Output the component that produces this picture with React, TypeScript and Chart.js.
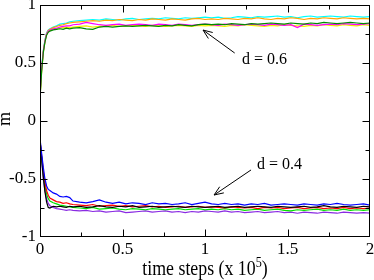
import { useEffect, useRef } from "react";
import { Chart, registerables } from "chart.js";

Chart.register(...registerables);

// ---------- data (time in units of 10^5 steps, magnetisation m) ----------
const timeSteps = [
  0, 0.01, 0.02, 0.03, 0.04, 0.05, 0.06, 0.08, 0.1, 0.12, 0.14, 0.16, 0.18, 0.2,
  0.24, 0.28, 0.32, 0.36, 0.4, 0.44, 0.48, 0.52, 0.56, 0.6, 0.64, 0.68, 0.72, 0.76, 0.8, 0.84, 0.88, 0.92, 0.96, 1.0,
  1.04, 1.08, 1.12, 1.16, 1.2, 1.24, 1.28, 1.32, 1.36, 1.4, 1.44, 1.48, 1.52, 1.56, 1.6, 1.64, 1.68, 1.72, 1.76, 1.8,
  1.84, 1.88, 1.92, 1.96, 2.0,
];

const xTickValues = [0, 0.5, 1, 1.5, 2];
const yTickValues = [-1, -0.5, 0, 0.5, 1];

// d = 0.6 runs
const d06Green = [
  0.19, 0.43, 0.59, 0.68, 0.74, 0.765, 0.775, 0.785, 0.79, 0.795, 0.79, 0.8, 0.795, 0.8,
  0.805, 0.795, 0.79, 0.81, 0.815, 0.81, 0.815, 0.82, 0.815, 0.82, 0.825, 0.82, 0.815, 0.825, 0.82, 0.83, 0.825, 0.82, 0.83, 0.835,
  0.83, 0.835, 0.83, 0.84, 0.835, 0.83, 0.84, 0.835, 0.84, 0.845, 0.84, 0.835, 0.845, 0.84, 0.835, 0.845, 0.84, 0.85, 0.845, 0.84,
  0.845, 0.85, 0.845, 0.84, 0.845,
];
const d06Magenta = [
  0.23, 0.45, 0.6, 0.69, 0.75, 0.775, 0.785, 0.795, 0.8, 0.81, 0.815, 0.82, 0.82, 0.83,
  0.835, 0.85, 0.84, 0.83, 0.825, 0.83, 0.835, 0.825, 0.83, 0.835, 0.83, 0.825, 0.835, 0.83, 0.825, 0.835, 0.83, 0.825, 0.83, 0.835,
  0.83, 0.825, 0.835, 0.83, 0.825, 0.83, 0.835, 0.83, 0.825, 0.835, 0.83, 0.825, 0.83, 0.805, 0.835, 0.83, 0.825, 0.83, 0.835, 0.83,
  0.84, 0.835, 0.83, 0.835, 0.84,
];
const d06Yellow = [
  0.2, 0.43, 0.59, 0.685, 0.745, 0.77, 0.78, 0.79, 0.795, 0.8, 0.805, 0.81, 0.805, 0.81,
  0.815, 0.82, 0.81, 0.815, 0.82, 0.825, 0.815, 0.82, 0.825, 0.82, 0.815, 0.825, 0.82, 0.815, 0.82, 0.825, 0.82, 0.815, 0.825, 0.82,
  0.825, 0.82, 0.815, 0.825, 0.82, 0.83, 0.825, 0.82, 0.815, 0.825, 0.82, 0.83, 0.825, 0.82, 0.815, 0.825, 0.82, 0.83, 0.825, 0.82,
  0.83, 0.825, 0.82, 0.83, 0.825,
];
const d06Orange = [
  0.21, 0.44, 0.6, 0.69, 0.755, 0.78, 0.79, 0.805, 0.815, 0.825, 0.83, 0.84, 0.845, 0.85,
  0.855, 0.86, 0.865, 0.86, 0.87, 0.865, 0.875, 0.87, 0.865, 0.875, 0.87, 0.88, 0.875, 0.87, 0.88, 0.875, 0.87, 0.88, 0.885, 0.875,
  0.88, 0.875, 0.885, 0.88, 0.875, 0.885, 0.88, 0.89, 0.88, 0.875, 0.885, 0.88, 0.89, 0.885, 0.875, 0.885, 0.88, 0.89, 0.885, 0.88,
  0.89, 0.885, 0.88, 0.885, 0.88,
];
const d06Cyan = [
  0.22, 0.46, 0.61, 0.7, 0.76, 0.785, 0.795, 0.81, 0.82, 0.835, 0.84, 0.845, 0.855, 0.86,
  0.865, 0.87, 0.875, 0.87, 0.88, 0.875, 0.87, 0.88, 0.885, 0.875, 0.88, 0.885, 0.88, 0.89, 0.885, 0.88, 0.89, 0.885, 0.89, 0.895,
  0.89, 0.895, 0.885, 0.89, 0.9, 0.895, 0.89, 0.9, 0.895, 0.9, 0.905, 0.895, 0.9, 0.89, 0.9, 0.905, 0.895, 0.9, 0.905, 0.9,
  0.895, 0.905, 0.9, 0.895, 0.9,
];

// d = 0.4 runs
const d04Blue = [
  -0.15, -0.28, -0.4, -0.5, -0.56, -0.59, -0.6, -0.62, -0.63, -0.65, -0.655, -0.65, -0.66, -0.69,
  -0.7, -0.705, -0.695, -0.68, -0.7, -0.71, -0.7, -0.715, -0.705, -0.71, -0.72, -0.705, -0.715, -0.71, -0.72, -0.715, -0.705, -0.72, -0.71, -0.7,
  -0.715, -0.72, -0.71, -0.72, -0.715, -0.725, -0.715, -0.72, -0.71, -0.725, -0.72, -0.715, -0.72, -0.725, -0.715, -0.72, -0.725, -0.715, -0.72, -0.71,
  -0.72, -0.725, -0.72, -0.715, -0.725,
];
const d04Black = [
  -0.16, -0.32, -0.48, -0.61, -0.7, -0.745, -0.75, -0.735, -0.74, -0.735, -0.74, -0.745, -0.735, -0.74,
  -0.735, -0.745, -0.74, -0.73, -0.74, -0.745, -0.735, -0.74, -0.73, -0.745, -0.74, -0.735, -0.745, -0.74, -0.735, -0.74, -0.745, -0.735, -0.74, -0.745,
  -0.74, -0.735, -0.745, -0.74, -0.735, -0.745, -0.74, -0.735, -0.74, -0.745, -0.735, -0.74, -0.745, -0.74, -0.735, -0.745, -0.74, -0.73, -0.74, -0.745,
  -0.735, -0.74, -0.745, -0.735, -0.74,
];
const d04Red = [
  -0.17, -0.3, -0.43, -0.53, -0.6, -0.64, -0.665, -0.68, -0.695, -0.7, -0.71, -0.705, -0.715, -0.72,
  -0.725, -0.73, -0.72, -0.735, -0.73, -0.725, -0.735, -0.73, -0.74, -0.735, -0.73, -0.74, -0.735, -0.745, -0.74, -0.735, -0.745, -0.74, -0.735, -0.745,
  -0.74, -0.745, -0.75, -0.74, -0.745, -0.75, -0.745, -0.755, -0.745, -0.75, -0.745, -0.755, -0.75, -0.745, -0.755, -0.75, -0.745, -0.755, -0.75, -0.755,
  -0.745, -0.755, -0.75, -0.755, -0.75,
];
const d04Green = [
  -0.18, -0.32, -0.46, -0.56, -0.63, -0.67, -0.69, -0.705, -0.715, -0.725, -0.73, -0.735, -0.74, -0.745,
  -0.75, -0.755, -0.745, -0.76, -0.755, -0.75, -0.76, -0.765, -0.755, -0.76, -0.765, -0.755, -0.76, -0.765, -0.76, -0.755, -0.765, -0.76, -0.755, -0.765,
  -0.76, -0.765, -0.755, -0.765, -0.76, -0.77, -0.765, -0.76, -0.77, -0.765, -0.76, -0.77, -0.775, -0.765, -0.77, -0.765, -0.76, -0.77, -0.765, -0.77,
  -0.76, -0.77, -0.765, -0.77, -0.765,
];
const d04Violet = [
  -0.2, -0.35, -0.5, -0.6, -0.67, -0.71, -0.73, -0.745, -0.755, -0.76, -0.765, -0.77, -0.765, -0.77,
  -0.775, -0.77, -0.78, -0.775, -0.785, -0.78, -0.775, -0.79, -0.785, -0.78, -0.775, -0.785, -0.78, -0.775, -0.785, -0.78, -0.79, -0.78, -0.785, -0.775,
  -0.78, -0.785, -0.775, -0.785, -0.78, -0.79, -0.785, -0.78, -0.79, -0.785, -0.78, -0.79, -0.785, -0.795, -0.785, -0.79, -0.795, -0.785, -0.79, -0.795,
  -0.785, -0.79, -0.795, -0.79, -0.795,
];

const annotationTexts = ["d = 0.6", "d = 0.4"];

// ---------- styling ----------
const SERIF = "'Liberation Serif', 'Times New Roman', serif";

const seriesList = [
  { values: d04Blue, color: "#0000ff" },
  { values: d04Black, color: "#000000" },
  { values: d04Red, color: "#ff0000" },
  { values: d04Green, color: "#00e000" },
  { values: d04Violet, color: "#8a2be2" },
  { values: d06Green, color: "#008b00" },
  { values: d06Magenta, color: "#ff00ff" },
  { values: d06Yellow, color: "#f0f000" },
  { values: d06Orange, color: "#ffa500" },
  { values: d06Cyan, color: "#00ffff" },
];

// annotation geometry in data coordinates
const annotations = [
  { text: annotationTexts[0], at: [1.36, 0.526], tail: [1.18, 0.586], head: [0.988, 0.784] },
  { text: annotationTexts[1], at: [1.452, -0.379], tail: [1.279, -0.422], head: [1.055, -0.638] },
];

const fmt = (v: number) => String(v);

const decorPlugin = {
  id: "decor",
  afterDatasetsDraw(chart: any) {
    const { ctx, chartArea: a, scales } = chart;
    const xs = scales.x;
    const ys = scales.y;
    ctx.save();
    ctx.strokeStyle = "#000";
    ctx.lineWidth = 1;
    const L = a.left + 0.5;
    const R = a.right - 0.5;
    const T = a.top + 0.5;
    const B = a.bottom - 0.5;
    ctx.strokeRect(L, T, R - L, B - T);

    const major = 7;
    const minor = 4;
    ctx.beginPath();
    const xt: [number, number][] = [];
    xTickValues.forEach((v, i) => {
      xt.push([v, major]);
      if (i < xTickValues.length - 1) xt.push([(v + xTickValues[i + 1]) / 2, minor]);
    });
    xt.forEach(([v, len]) => {
      const p = Math.round(xs.getPixelForValue(v)) + 0.5;
      const px = Math.min(Math.max(p, L), R);
      ctx.moveTo(px, B);
      ctx.lineTo(px, B - len);
      ctx.moveTo(px, T);
      ctx.lineTo(px, T + len);
    });
    const yt: [number, number][] = [];
    yTickValues.forEach((v, i) => {
      yt.push([v, major]);
      if (i < yTickValues.length - 1) yt.push([(v + yTickValues[i + 1]) / 2, minor]);
    });
    yt.forEach(([v, len]) => {
      const p = Math.round(ys.getPixelForValue(v)) + 0.5;
      const py = Math.min(Math.max(p, T), B);
      ctx.moveTo(L, py);
      ctx.lineTo(L + len, py);
      ctx.moveTo(R, py);
      ctx.lineTo(R - len, py);
    });
    ctx.stroke();

    // annotations with arrows
    ctx.fillStyle = "#000";
    ctx.font = `16px ${SERIF}`;
    ctx.textAlign = "center";
    ctx.textBaseline = "middle";
    annotations.forEach((an) => {
      ctx.fillText(an.text, xs.getPixelForValue(an.at[0]), ys.getPixelForValue(an.at[1]));
      const x1 = xs.getPixelForValue(an.tail[0]);
      const y1 = ys.getPixelForValue(an.tail[1]);
      const x2 = xs.getPixelForValue(an.head[0]);
      const y2 = ys.getPixelForValue(an.head[1]);
      const ang = Math.atan2(y2 - y1, x2 - x1);
      const hl = 10;
      const sp = 0.38;
      ctx.beginPath();
      ctx.moveTo(x1, y1);
      ctx.lineTo(x2, y2);
      ctx.moveTo(x2 - hl * Math.cos(ang - sp), y2 - hl * Math.sin(ang - sp));
      ctx.lineTo(x2, y2);
      ctx.lineTo(x2 - hl * Math.cos(ang + sp), y2 - hl * Math.sin(ang + sp));
      ctx.stroke();
    });

    // x axis title with superscript
    const cx = (a.left + a.right) / 2;
    ctx.save();
    ctx.translate(cx, 275);
    ctx.scale(0.81, 1);
    ctx.textAlign = "left";
    ctx.textBaseline = "alphabetic";
    ctx.font = `22px ${SERIF}`;
    const main = "time steps (x 10";
    const close = ")";
    const wm = ctx.measureText(main).width;
    const wc = ctx.measureText(close).width;
    ctx.font = `15px ${SERIF}`;
    const sup = "5";
    const wsu = ctx.measureText(sup).width;
    const start = -(wm + wsu + wc) / 2;
    ctx.font = `22px ${SERIF}`;
    ctx.fillText(main, start, 0);
    ctx.fillText(close, start + wm + wsu, 0);
    ctx.font = `15px ${SERIF}`;
    ctx.fillText(sup, start + wm, -8);
    ctx.restore();

    // y axis title
    ctx.save();
    ctx.translate(10, 119);
    ctx.rotate(-Math.PI / 2);
    ctx.textAlign = "center";
    ctx.textBaseline = "alphabetic";
    ctx.font = `18px ${SERIF}`;
    ctx.fillText("m", 0, 0);
    ctx.restore();

    ctx.restore();
  },
};

export default function App() {
  const ref = useRef<HTMLCanvasElement | null>(null);

  useEffect(() => {
    document.body.style.margin = "0";
    const canvas = ref.current;
    if (!canvas) return;
    const chart = new Chart(canvas, {
      type: "line",
      data: {
        datasets: seriesList.map((s) => ({
          data: timeSteps.map((t, i) => ({ x: t, y: s.values[i] })),
          borderColor: s.color,
          backgroundColor: s.color,
          borderWidth: 1.2,
          pointRadius: 0,
          tension: 0,
          fill: false,
        })),
      },
      options: {
        responsive: false,
        animation: false,
        devicePixelRatio: 1,
        layout: { padding: { left: 0, right: 4, top: 5, bottom: 0 } },
        plugins: { legend: { display: false }, tooltip: { enabled: false } },
        scales: {
          x: {
            type: "linear",
            min: 0,
            max: 2,
            grid: { display: false, drawTicks: false },
            border: { display: false },
            afterBuildTicks: (s: any) => {
              s.ticks = xTickValues.map((v) => ({ value: v }));
            },
            afterFit: (s: any) => {
              s.height = 43;
              s.paddingLeft = 0;
              s.paddingRight = 0;
              s.paddingTop = 0;
              s.paddingBottom = 0;
            },
            ticks: {
              color: "#000",
              padding: 2,
              maxRotation: 0,
              callback: (v: any) => fmt(Number(v)),
              font: { family: SERIF, size: 17 },
            },
          },
          y: {
            type: "linear",
            min: -1,
            max: 1,
            grid: { display: false, drawTicks: false },
            border: { display: false },
            afterBuildTicks: (s: any) => {
              s.ticks = yTickValues.map((v) => ({ value: v }));
            },
            afterFit: (s: any) => {
              s.width = 40;
              s.paddingLeft = 0;
              s.paddingRight = 0;
              s.paddingTop = 0;
              s.paddingBottom = 0;
            },
            ticks: {
              color: "#000",
              padding: 4,
              callback: (v: any) => fmt(Number(v)),
              font: { family: SERIF, size: 17 },
            },
          },
        },
      },
      plugins: [decorPlugin],
    } as any);
    return () => chart.destroy();
  }, []);

  return (
    <div style={{ position: "fixed", left: 0, top: 0, width: 374, height: 280, background: "#fff" }}>
      <canvas ref={ref} width={374} height={280} style={{ display: "block" }} />
    </div>
  );
}
